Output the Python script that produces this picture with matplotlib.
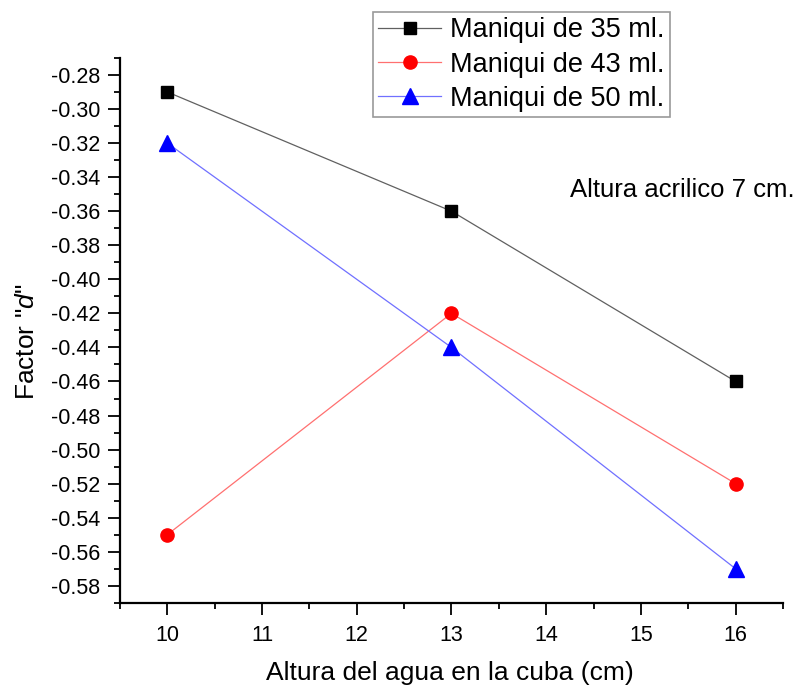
import matplotlib.pyplot as plt
from matplotlib.ticker import MultipleLocator

plt.rcParams['font.family'] = ['Liberation Sans', 'DejaVu Sans']
plt.rcParams['mathtext.fontset'] = 'custom'
plt.rcParams['mathtext.it'] = 'Liberation Sans:italic'
plt.rcParams['mathtext.rm'] = 'Liberation Sans'

altura_agua = [10, 13, 16]
maniqui_35 = [-0.29, -0.36, -0.46]
maniqui_43 = [-0.55, -0.42, -0.52]
maniqui_50 = [-0.32, -0.44, -0.57]

fig = plt.figure(figsize=(7.99, 6.89), dpi=100)
ax = fig.add_axes([0.150, 0.125, 0.830, 0.791])

ax.plot(altura_agua, maniqui_35, color='#606060', lw=0.9, marker='s', ms=8.5,
        mfc='black', mec='black', label='Maniqui de 35 ml.')
ax.plot(altura_agua, maniqui_43, color='#ff7070', lw=0.9, marker='o', ms=9.5,
        mfc='red', mec='red', label='Maniqui de 43 ml.')
ax.plot(altura_agua, maniqui_50, color='#7070ff', lw=0.9, marker='^', ms=11,
        mfc='blue', mec='blue', label='Maniqui de 50 ml.')

ax.set_xlim(9.5, 16.5)
ax.set_ylim(-0.59, -0.27)
ax.xaxis.set_major_locator(MultipleLocator(1))
ax.xaxis.set_minor_locator(MultipleLocator(0.5))
ax.yaxis.set_major_locator(MultipleLocator(0.02))
ax.yaxis.set_minor_locator(MultipleLocator(0.01))
ax.yaxis.set_major_formatter(plt.FuncFormatter(lambda v, p: f"{v:.2f}"))

for s in ['top', 'right']:
    ax.spines[s].set_visible(False)
for s in ['left', 'bottom']:
    ax.spines[s].set_linewidth(1.6)
ax.tick_params(which='major', direction='out', length=8.6, width=1.3, labelsize=15.5)
ax.tick_params(which='minor', direction='out', length=4.3, width=1.3)
ax.tick_params(axis='y', pad=5.5)
ax.tick_params(axis='x', pad=7)

fig.text(450 / 799, 1 - 673 / 689, 'Altura del agua en la cuba (cm)',
         fontsize=19, ha='center', va='center')
fig.text(27 / 799, 1 - 342 / 689, 'Factor "$\\mathit{d}$"',
         fontsize=19, ha='center', va='center', rotation=90)
fig.text(795 / 799, 1 - 197 / 689, 'Altura acrilico 7 cm.',
         fontsize=18.5, ha='right', va='baseline')

leg = fig.legend(loc='upper left', bbox_to_anchor=(373 / 799, 1 - 12 / 689),
                 fontsize=19.5, frameon=True, fancybox=False, edgecolor='#808080',
                 borderpad=0.2, labelspacing=0.3, handlelength=2.3,
                 handletextpad=0.34, borderaxespad=0)
leg.get_frame().set_linewidth(1.2)

fig.savefig('out.png', dpi=100)
